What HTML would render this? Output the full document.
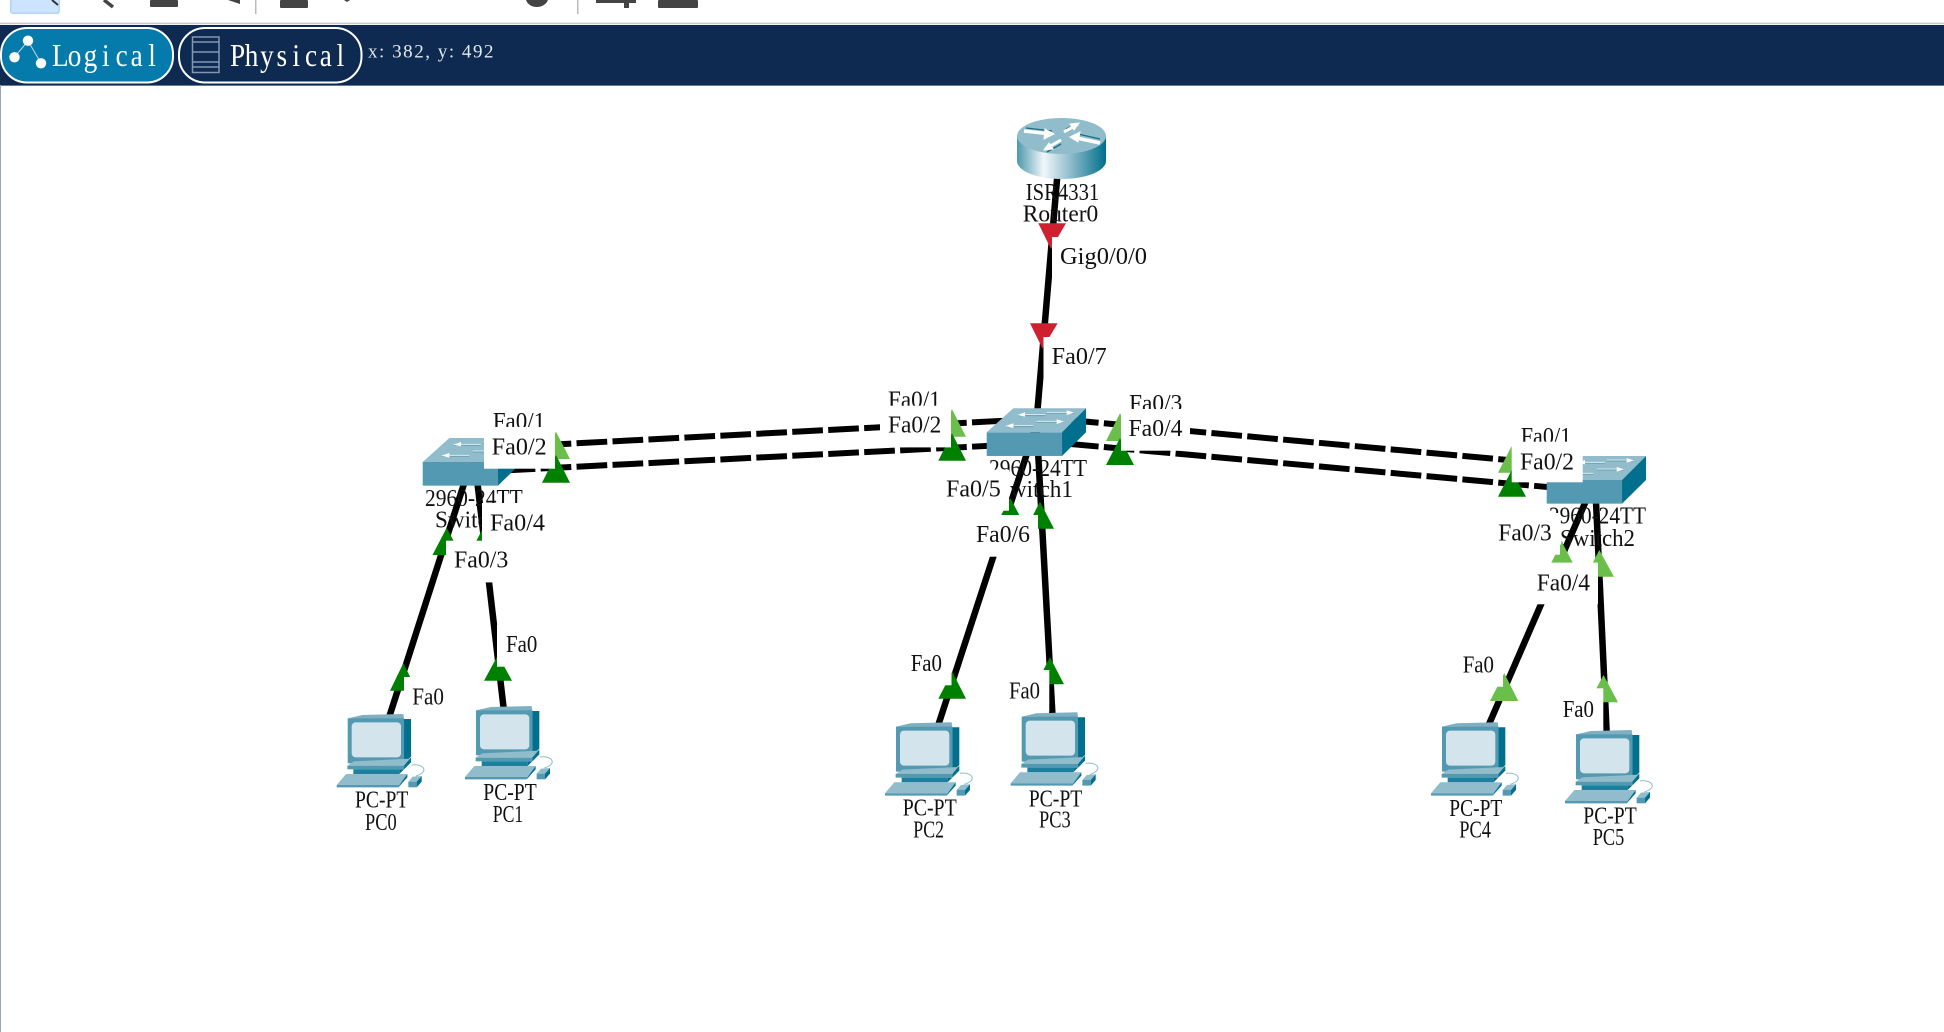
<!DOCTYPE html>
<html>
<head>
<meta charset="utf-8">
<style>
html,body{margin:0;padding:0;background:#fff;width:1944px;height:1032px;overflow:hidden}
svg{display:block}
text{font-family:"Liberation Serif",serif;font-size:24px;fill:#111}
</style>
</head>
<body>
<svg width="1944" height="1032" viewBox="0 0 1944 1032" xmlns="http://www.w3.org/2000/svg">
<defs>
<linearGradient id="rg" x1="0" x2="1" y1="0" y2="0">
<stop offset="0" stop-color="#4f97ac"/><stop offset=".3" stop-color="#f0f7f9"/><stop offset=".6" stop-color="#8fbccb"/><stop offset="1" stop-color="#006f8c"/>
</linearGradient>
<g id="sw">
<rect x="0" y="72" width="226" height="71" fill="#5399b1"/>
<polygon points="0,72 80,0 298,0 226,72" fill="#90bccb"/>
<polygon points="226,72 298,0 298,72 226,143" fill="#00708e"/>
<g stroke-width="3.5" fill="none" stroke="#6fa3b5">
<path d="M95,22H175"/><path d="M180,15H260"/><path d="M150,42H230"/><path d="M60,55H140"/>
</g>
<g fill="#fff">
<polygon points="92,20 115,12 115,25"/><polygon points="262,13 240,6 240,20"/><polygon points="232,40 210,33 210,47"/><polygon points="56,53 80,45 80,59"/>
</g>
<g stroke="#e8f3f6" stroke-width="2.5"><path d="M110,19H175M180,12H245M150,39H215M75,52H140"/></g>
</g>
<g id="pc" transform="translate(-20,-42)">
<polygon points="53,55 97,45 220,42 222,57" fill="#7fb0c2"/>
<rect x="53" y="55" width="169" height="135" fill="#5399b1"/>
<polygon points="222,57 243,57 243,170 222,190" fill="#00708e"/>
<rect x="65" y="67" width="148" height="105" rx="12" fill="#d3e4ec"/>
<polygon points="52,197 72,184 240,176 222,197" fill="#90bccb"/>
<rect x="52" y="197" width="170" height="11" fill="#5399b1"/>
<polygon points="222,197 243,172 243,187 222,208" fill="#00708e"/>
<rect x="70" y="208" width="138" height="14" fill="#1c7f9e"/>
<polygon points="208,208 222,208 208,222" fill="#00708e"/>
<polygon points="20,255 48,222 232,222 208,255" fill="#90bccb"/>
<polygon points="20,255 208,255 205,262 20,262" fill="#5399b1"/>
<polygon points="208,255 232,222 232,232 205,262" fill="#00708e"/>
<path d="M245,195C280,190 300,215 258,228" fill="none" stroke="#8dbccd" stroke-width="3"/>
<polygon points="235,245 248,230 275,228 260,245" fill="#90bccb"/>
<rect x="235" y="245" width="25" height="17" fill="#5399b1"/>
<polygon points="260,245 275,228 275,245 260,262" fill="#00708e"/>
</g>
</defs>

<!-- toolbar -->
<rect x="0" y="0" width="1944" height="22.7" fill="#fff"/>
<rect x="10.7" y="-2" width="48.5" height="15.3" rx="2" fill="#cce4ff" stroke="#99c8f0"/>
<path d="M52,0L58,5" stroke="#333" stroke-width="2"/>
<path d="M104,0L113,7" stroke="#444" stroke-width="3.5"/>
<rect x="150" y="0" width="28" height="7" rx="1" fill="#444"/>
<polygon points="228,0 240,0 240,4" fill="#444"/>
<rect x="255" y="0" width="1.5" height="14" fill="#bbb"/>
<rect x="280" y="0" width="28" height="8" rx="1" fill="#444"/>
<polygon points="344,0 350,0 347,2" fill="#444"/>
<path d="M526,0H548C546,5 541,7 537,7C532,7 528,5 526,0Z" fill="#444"/>
<rect x="577" y="0" width="1.5" height="14" fill="#bbb"/>
<rect x="596" y="0" width="40" height="3" fill="#444"/><rect x="624" y="0" width="5" height="8" fill="#444"/>
<rect x="658" y="0" width="40" height="8" rx="1" fill="#444"/>
<rect x="0" y="22.7" width="1944" height="1.5" fill="#c8c8c8"/>

<!-- navy bar -->
<rect x="0" y="25" width="1944" height="60" fill="#0e2a50"/>
<rect x="0" y="85" width="1944" height="1" fill="#6b7a90"/>
<rect x="0" y="85" width="1" height="947" fill="#9aa5b5"/>
<rect x="1" y="28" width="172" height="54.5" rx="26" fill="#047baa" stroke="#fff" stroke-width="2"/>
<rect x="179" y="28" width="182.5" height="54.5" rx="26" fill="#0e2a50" stroke="#fff" stroke-width="2"/>
<g stroke="#bcd9e6" stroke-width="1"><path d="M28,41L14.5,57M28,41L41,63"/></g>
<circle cx="28" cy="40.7" r="5.2" fill="#fff"/><circle cx="14.5" cy="57.3" r="5.2" fill="#fff"/><circle cx="41" cy="63.3" r="5.2" fill="#fff"/>
<g fill="none" stroke="#8496b2" stroke-width="1.5">
<rect x="192.5" y="37" width="26.5" height="35.5"/>
<path d="M192.5,42H219M192.5,52H219M192.5,62H219M192.5,67H219"/>
</g>
<g transform="translate(52,66) scale(.85,1)"><text x="0 18.6 37.2 58.9 74.9 92.5 113.2" y="0" style="font-size:32px;fill:#fff">Logical</text></g>
<g transform="translate(230,66) scale(.85,1)"><text x="0 17.35 35.4 54.7 73.4 88.3 105.6 125.4" y="0" style="font-size:32px;fill:#fff">Physical</text></g>
<text x="368" y="57.5" textLength="125.5" lengthAdjust="spacing" style="font-size:19px;fill:#e2e8f0">x: 382, y: 492</text>

<!-- links -->
<g stroke="#000" stroke-width="6.5" fill="none">
<path d="M1059.5,150L1037.5,410"/>
<path d="M471,462L385,730"/>
<path d="M475,462L505,720"/>
<path d="M1034,432L935,735"/>
<path d="M1037,432L1053,725"/>
<path d="M1595,480L1483,738"/>
<path d="M1595,480L1607,740"/>
</g>
<g stroke="#000" stroke-width="6" fill="none" stroke-dasharray="30.7 5.3">
<path d="M468.7,449L1037,419"/>
<path d="M468.7,472.2L1037,443.4"/>
<path d="M1068,420L1585,467"/>
<path d="M1068,443.8L1585,490.4"/>
</g>

<!-- router -->
<rect x="1017" y="136" width="89" height="25" fill="url(#rg)"/>
<ellipse cx="1061.5" cy="161" rx="44.5" ry="18" fill="url(#rg)"/>
<ellipse cx="1061.5" cy="136" rx="44.5" ry="18" fill="#90bccb"/>
<g stroke="#1e6c80" stroke-width="1.3" fill="none">
<path d="M1026,128L1052,131"/><path d="M1066,129L1078,123"/><path d="M1047,152L1061,144"/><path d="M1078,134L1100,139"/>
</g>
<g fill="#fff" stroke="#fff">
<path d="M1024,131L1052,134" stroke-width="3.5"/><polygon points="1054,134 1045,129 1044,139"/>
<path d="M1064,132L1078,124" stroke-width="3"/><polygon points="1079,123 1070,124 1074,130"/>
<path d="M1045,149L1061,140" stroke-width="3"/><polygon points="1044,150 1053,149 1049,143"/>
<path d="M1072,137L1100,143" stroke-width="3.5"/><polygon points="1070,137 1080,132 1078,142"/>
</g>

<!-- switches -->
<use href="#sw" transform="translate(422.7,438) scale(.3333)"/>
<use href="#sw" transform="translate(986.7,408.3) scale(.3333)"/>
<use href="#sw" transform="translate(1546.7,456) scale(.3333)"/>

<!-- PCs -->
<use href="#pc" transform="translate(336.7,714) scale(.3333)"/>
<use href="#pc" transform="translate(465,706) scale(.3333)"/>
<use href="#pc" transform="translate(885,722.3) scale(.3333)"/>
<use href="#pc" transform="translate(1010.7,712.3) scale(.3333)"/>
<use href="#pc" transform="translate(1431,722.3) scale(.3333)"/>
<use href="#pc" transform="translate(1565,730) scale(.3333)"/>

<!-- device labels -->
<g transform="translate(0,1)">
<text x="1025.7" y="199" textLength="73.6" lengthAdjust="spacingAndGlyphs">ISR4331</text>
<text x="1022.7" y="220.7" textLength="75.6" lengthAdjust="spacingAndGlyphs">Router0</text>
<text x="425" y="505" textLength="97.7" lengthAdjust="spacingAndGlyphs">2960-24TT</text>
<text x="435" y="526.7" textLength="76" lengthAdjust="spacingAndGlyphs">Switch0</text>
<text x="989" y="475" textLength="98" lengthAdjust="spacingAndGlyphs">2960-24TT</text>
<text x="997" y="496" textLength="76" lengthAdjust="spacingAndGlyphs">Switch1</text>
<text x="1549" y="522.7" textLength="97" lengthAdjust="spacingAndGlyphs">2960-24TT</text>
<text x="1560" y="545" textLength="75" lengthAdjust="spacingAndGlyphs">Switch2</text>
<text x="355" y="806.7" textLength="53.3" lengthAdjust="spacingAndGlyphs">PC-PT</text>
<text x="365" y="829" textLength="31.7" lengthAdjust="spacingAndGlyphs">PC0</text>
<text x="483.3" y="799" textLength="53.4" lengthAdjust="spacingAndGlyphs">PC-PT</text>
<text x="492.7" y="821" textLength="30.6" lengthAdjust="spacingAndGlyphs">PC1</text>
<text x="902.7" y="814.3" textLength="54" lengthAdjust="spacingAndGlyphs">PC-PT</text>
<text x="913.3" y="836.7" textLength="30.7" lengthAdjust="spacingAndGlyphs">PC2</text>
<text x="1028.7" y="805.7" textLength="53.6" lengthAdjust="spacingAndGlyphs">PC-PT</text>
<text x="1039" y="826.7" textLength="31.7" lengthAdjust="spacingAndGlyphs">PC3</text>
<text x="1449.3" y="815" textLength="53" lengthAdjust="spacingAndGlyphs">PC-PT</text>
<text x="1459.3" y="836.7" textLength="31.7" lengthAdjust="spacingAndGlyphs">PC4</text>
<text x="1583.3" y="822.3" textLength="53.4" lengthAdjust="spacingAndGlyphs">PC-PT</text>
<text x="1592.7" y="844" textLength="31.6" lengthAdjust="spacingAndGlyphs">PC5</text>
</g>

<!-- link triangles -->
<g fill="#cf2032">
<polygon points="1038.3,223.3 1066,223.3 1051,249"/>
<polygon points="1030,323.3 1057.7,323.3 1042.5,348.5"/>
</g>
<g fill="#6abf4b">
<polygon points="556,431.7 542,459 570,459"/>
<polygon points="952,409.3 938,436.7 966,436.7"/>
<polygon points="1120,413.3 1106,441 1134,441"/>
<polygon points="1511.7,446 1498,472.7 1526,472.7"/>
<polygon points="1561.9,542 1548,569 1576,569"/>
<polygon points="1599.3,550 1585.5,576.7 1614,576.7"/>
<polygon points="1504.3,673.3 1490,701 1518.3,701"/>
<polygon points="1603.5,675 1589,702.3 1618,702.3"/>
</g>
<g fill="#008000">
<polygon points="556,455 542,482.7 570,482.7"/>
<polygon points="952,433.3 938.3,460.7 966,460.7"/>
<polygon points="1120,438 1106,465 1134,465"/>
<polygon points="1511.7,470 1498,496.7 1526,496.7"/>
<polygon points="446.7,527.7 432.5,555 461,555"/>
<polygon points="482,530 468,557 496,557"/>
<polygon points="1010.2,497.7 996,525 1024.5,525"/>
<polygon points="1040,501.7 1026,528.7 1054,528.7"/>
<polygon points="403.3,663.3 390,690.7 417,690.7"/>
<polygon points="498,655 484,680.7 512,680.7"/>
<polygon points="952.3,671.7 938.3,698.7 966,698.7"/>
<polygon points="1050,657.3 1036,684.3 1064,684.3"/>
</g>

<!-- port labels with white backgrounds -->
<g fill="#fff">
<rect x="1052" y="237" width="103" height="41.7"/>
<rect x="1043.5" y="337" width="71" height="41.7"/>
<rect x="484" y="402" width="71" height="41"/>
</g>
<g transform="translate(0,1)">
<text x="1060" y="263" textLength="87" lengthAdjust="spacingAndGlyphs">Gig0/0/0</text>
<text x="1051.7" y="363" textLength="55" lengthAdjust="spacingAndGlyphs">Fa0/7</text>
<text x="492.7" y="428" textLength="52.5" lengthAdjust="spacingAndGlyphs">Fa0/1</text>
<text x="888" y="406.7" textLength="52.7" lengthAdjust="spacingAndGlyphs">Fa0/1</text>
<text x="1129" y="410" textLength="53.3" lengthAdjust="spacingAndGlyphs">Fa0/3</text>
<text x="1520.7" y="443" textLength="50.5" lengthAdjust="spacingAndGlyphs">Fa0/1</text>
</g>
<g fill="#fff">
<rect x="484" y="427" width="71" height="41.7"/>
<rect x="880" y="405.7" width="71" height="41.7"/>
<rect x="1121" y="409" width="69" height="41.7"/>
<rect x="1511.7" y="441.7" width="71" height="40.6"/>
<rect x="482" y="503" width="71" height="41.7"/>
<rect x="446" y="540.7" width="70" height="41.7"/>
<rect x="938" y="469.7" width="71" height="41"/>
<rect x="968" y="515" width="70" height="41.7"/>
<rect x="1490" y="513" width="70" height="41.7"/>
<rect x="1528.7" y="562.6" width="69.3" height="41.7"/>
<rect x="404" y="677" width="48" height="41.7"/>
<rect x="497" y="625" width="48" height="41.7"/>
<rect x="903" y="644" width="48.5" height="41.3"/>
<rect x="1001" y="670" width="48.3" height="41.7"/>
<rect x="1455" y="645.7" width="48" height="41"/>
<rect x="1555" y="688.3" width="48.3" height="41.7"/>
</g>
<g transform="translate(0,1)">
<text x="491.7" y="453.3" textLength="55" lengthAdjust="spacingAndGlyphs">Fa0/2</text>
<text x="888" y="431.7" textLength="53.3" lengthAdjust="spacingAndGlyphs">Fa0/2</text>
<text x="1128.5" y="435" textLength="54" lengthAdjust="spacingAndGlyphs">Fa0/4</text>
<text x="1520" y="468.3" textLength="54" lengthAdjust="spacingAndGlyphs">Fa0/2</text>
<text x="490" y="529.3" textLength="55" lengthAdjust="spacingAndGlyphs">Fa0/4</text>
<text x="454" y="566.7" textLength="54.3" lengthAdjust="spacingAndGlyphs">Fa0/3</text>
<text x="946" y="495.7" textLength="54.7" lengthAdjust="spacingAndGlyphs">Fa0/5</text>
<text x="976" y="541" textLength="54" lengthAdjust="spacingAndGlyphs">Fa0/6</text>
<text x="1498.3" y="539.3" textLength="53.4" lengthAdjust="spacingAndGlyphs">Fa0/3</text>
<text x="1536.7" y="589.3" textLength="53.3" lengthAdjust="spacingAndGlyphs">Fa0/4</text>
<text x="412.3" y="703.3" textLength="31.7" lengthAdjust="spacingAndGlyphs">Fa0</text>
<text x="506" y="651" textLength="31.3" lengthAdjust="spacingAndGlyphs">Fa0</text>
<text x="910.7" y="670" textLength="31.3" lengthAdjust="spacingAndGlyphs">Fa0</text>
<text x="1009" y="697.7" textLength="31" lengthAdjust="spacingAndGlyphs">Fa0</text>
<text x="1462.7" y="671.7" textLength="31.3" lengthAdjust="spacingAndGlyphs">Fa0</text>
<text x="1562.7" y="716" textLength="31.3" lengthAdjust="spacingAndGlyphs">Fa0</text>
</g>
</svg>
</body>
</html>
